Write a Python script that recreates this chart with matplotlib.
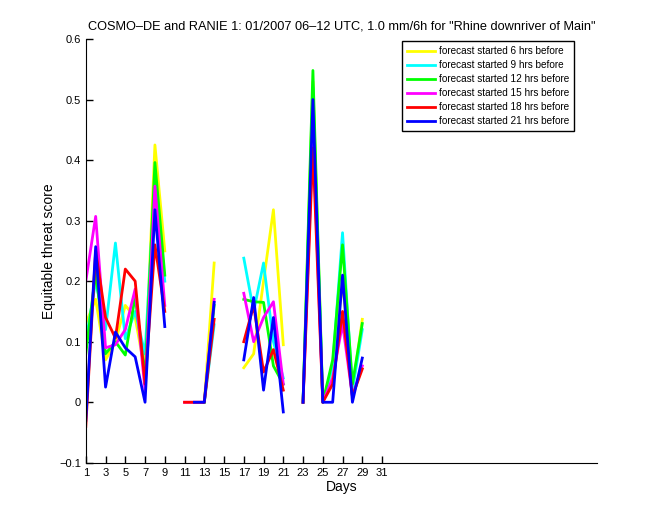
import numpy as np
import matplotlib
matplotlib.use("Agg")
import matplotlib.pyplot as plt
from matplotlib.ticker import FuncFormatter

nan = np.nan
days = np.arange(1, 30)

# equitable threat score per day, NaN where no value
lead_6 = [0.13, 0.17, 0.07, 0.10, 0.16, 0.14, 0.05, 0.425, 0.25,
          nan, nan, nan, 0.0, 0.23, nan, nan,
          0.057, 0.08, 0.20, 0.318, 0.095, nan,
          0.0, 0.53, 0.0, 0.05, 0.20, 0.02, 0.137]
lead_9 = [0.10, 0.20, 0.12, 0.263, 0.105, 0.15, 0.08, 0.37, 0.20,
          nan, nan, nan, 0.0, 0.128, nan, nan,
          0.238, 0.15, 0.23, 0.10, 0.04, nan,
          0.0, 0.52, 0.0, 0.06, 0.28, 0.02, 0.12]
lead_12 = [0.08, 0.215, 0.08, 0.10, 0.078, 0.175, 0.04, 0.396, 0.21,
           nan, nan, nan, 0.0, 0.16, nan, nan,
           0.17, 0.166, 0.165, 0.06, 0.03, nan,
           0.0, 0.548, 0.0, 0.07, 0.26, 0.03, 0.13]
lead_15 = [0.20, 0.307, 0.09, 0.095, 0.12, 0.187, 0.02, 0.357, 0.16,
           nan, 0.0, 0.0, 0.0, 0.17, nan, nan,
           0.18, 0.10, 0.14, 0.166, 0.03, nan,
           0.0, 0.45, 0.0, 0.04, 0.13, 0.01, 0.06]
lead_18 = [-0.04, 0.25, 0.14, 0.106, 0.22, 0.20, 0.03, 0.26, 0.15,
           nan, 0.0, 0.0, 0.0, 0.137, nan, nan,
           0.10, 0.16, 0.05, 0.087, 0.02, nan,
           0.0, 0.42, 0.0, 0.03, 0.15, 0.01, 0.055]
lead_21 = [-0.03, 0.257, 0.025, 0.116, 0.09, 0.075, 0.0, 0.318, 0.125,
           nan, nan, 0.0, 0.0, 0.165, nan, nan,
           0.07, 0.173, 0.02, 0.14, -0.016, nan,
           0.0, 0.50, 0.0, 0.0, 0.21, 0.0, 0.073]

series = [lead_6, lead_9, lead_12, lead_15, lead_18, lead_21]
labels = ["forecast started 6 hrs before", "forecast started 9 hrs before",
          "forecast started 12 hrs before", "forecast started 15 hrs before",
          "forecast started 18 hrs before", "forecast started 21 hrs before"]
colors = ["#ffff00", "#00ffff", "#00ff00", "#ff00ff", "#ff0000", "#0000ff"]

plt.rcParams.update({"font.family": "Liberation Sans", "font.size": 8})

fig = plt.figure(figsize=(6.6, 5.2), dpi=100)
ax = fig.add_axes([0.13, 0.11, 0.775, 0.815])

for vals, lab, col in zip(series, labels, colors):
    ax.plot(days, vals, color=col, lw=2, label=lab)

ax.set_xlim(1, 52.8)
ax.set_ylim(-0.1, 0.6)
ax.set_xticks(np.arange(1, 32, 2))
ax.set_yticks(np.arange(-0.1, 0.61, 0.1))
ax.yaxis.set_major_formatter(
    FuncFormatter(lambda v, p: ("%g" % round(v, 2)).replace("-", "\u2212")))
ax.tick_params(direction="in", length=5, width=1, labelsize=8)
ax.spines["top"].set_visible(False)
ax.spines["right"].set_visible(False)

ax.set_xlabel("Days", fontsize=10, labelpad=2)
ax.set_ylabel("Equitable threat score", fontsize=10, labelpad=2)
ax.set_title('COSMO\u2013DE and RANIE 1: 01/2007 06\u201312 UTC, 1.0 mm/6h for "Rhine downriver of Main"',
             fontsize=9.2, pad=7)

leg = ax.legend(loc="upper right", bbox_to_anchor=(0.965, 1.007), fontsize=7.2,
                fancybox=False, edgecolor="black", framealpha=1,
                handlelength=2.8, handletextpad=0.4, borderpad=0.5,
                labelspacing=0.4)
leg.get_frame().set_linewidth(1)

fig.savefig("out.png", dpi=100)
